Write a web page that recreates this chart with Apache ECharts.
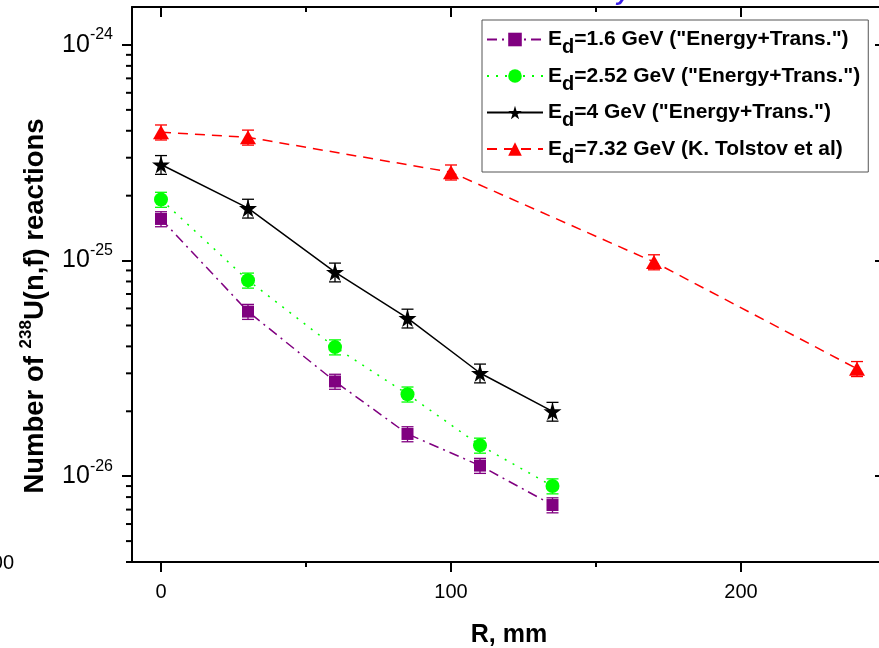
<!DOCTYPE html>
<html><head><meta charset="utf-8">
<script src="https://cdn.jsdelivr.net/npm/echarts@6/dist/echarts.min.js"></script>
<style>html,body{margin:0;padding:0;background:#fff}#c{width:879px;height:648px}</style>
</head><body><div id="c"></div>
<script>
// ---- data ----
const names = [
  'E_d=1.6 GeV ("Energy+Trans.")',
  'E_d=2.52 GeV ("Energy+Trans.")',
  'E_d=4 GeV ("Energy+Trans.")',
  'E_d=7.32 GeV (K. Tolstov et al)'
];
const xPurple = [0, 30, 60, 85, 110, 135];
const yPurple = [1.56e-25, 5.8e-26, 2.75e-26, 1.57e-26, 1.12e-26, 7.35e-27];
const ePurple = [0.08, 0.08, 0.08, 0.08, 0.08, 0.08];
const xGreen = [0, 30, 60, 85, 110, 135];
const yGreen = [1.92e-25, 8.1e-26, 3.97e-26, 2.4e-26, 1.39e-26, 9.0e-27];
const eGreen = [0.08, 0.08, 0.08, 0.08, 0.08, 0.08];
const xBlack = [0, 30, 60, 85, 110, 135];
const yBlack = [2.79e-25, 1.75e-25, 8.85e-26, 5.41e-26, 3.01e-26, 2.0e-26];
const eBlack = [0.10, 0.10, 0.10, 0.10, 0.10, 0.10];
const xRed = [0, 30, 100, 170, 240];
const yRed = [3.94e-25, 3.73e-25, 2.57e-25, 9.85e-26, 3.15e-26];
const eRed = [0.08, 0.08, 0.08, 0.08, 0.08];
const xTickMajor = [0, 100, 200];
const xTickMinor = [50, 150];
const yTickMinor = [];
[-27, -26, -25].forEach(function (d) {
  for (let m = 2; m <= 9; m++) {
    const v = m * Math.pow(10, d);
    if (v >= 4e-27 && v <= 1.5e-24) yTickMinor.push(v);
  }
});

const F = 'Arial, "Liberation Sans", sans-serif';
const colors = ['#800080', '#00ff00', '#000000', '#ff0000'];
const starPath = 'path://M50,0 L61,35 L98,35 L68,57 L79,91 L50,70 L21,91 L32,57 L2,35 L39,35 Z';
const XMIN = -10, XMAX = 250, YMIN = 4e-27, YMAX = 1.5e-24;

function pts(xs, ys) { return xs.map((x, i) => [x, ys[i]]); }
function errPts(xs, ys, es) { return xs.map((x, i) => [x, ys[i], es[i]]); }
function errRender(color) {
  return function (params, api) {
    const x = api.value(0), y = api.value(1), e = api.value(2);
    const p = api.coord([x, y * (1 + e)]);
    const q = api.coord([x, y * (1 - e)]);
    const w = 6;
    const st = { stroke: color, lineWidth: 1.3 };
    return { type: 'group', children: [
      { type: 'line', shape: { x1: p[0], y1: p[1], x2: q[0], y2: q[1] }, style: st },
      { type: 'line', shape: { x1: p[0] - w, y1: p[1], x2: p[0] + w, y2: p[1] }, style: st },
      { type: 'line', shape: { x1: q[0] - w, y1: q[1], x2: q[0] + w, y2: q[1] }, style: st }
    ] };
  };
}
function lineSeries(i, xs, ys, symbol, size, dash) {
  return {
    name: names[i], type: 'line', data: pts(xs, ys), z: 3,
    xAxisIndex: 0, yAxisIndex: 0,
    symbol: symbol, symbolSize: size,
    itemStyle: { color: colors[i] },
    lineStyle: { color: colors[i], width: 1.5, type: dash },
    emphasis: { disabled: true }
  };
}
function errSeries(i, xs, ys, es) {
  return { type: 'custom', xAxisIndex: 0, yAxisIndex: 0, data: errPts(xs, ys, es), renderItem: errRender(colors[i]), z: 2, silent: true };
}
// minor ticks of the left log axis, placed through the axis scale
const minorTickSeries = {
  type: 'custom', xAxisIndex: 0, yAxisIndex: 0, silent: true, clip: false, z: 5,
  data: yTickMinor.map(v => [XMIN, v]),
  renderItem: function (params, api) {
    const p = api.coord([api.value(0), api.value(1)]);
    return { type: 'line', shape: { x1: p[0] - 6, y1: p[1], x2: p[0], y2: p[1] }, style: { stroke: '#000', lineWidth: 2 } };
  }
};

const axisLineStyle = { color: '#000', width: 2 };
const tickLS = { width: 2, color: '#000' };
const gridBox = { left: 132, right: -7, top: 7, bottom: 86, containLabel: false, outerBoundsMode: 'none' };

const chart = echarts.init(document.getElementById('c'));
chart.setOption({
  animation: false,
  backgroundColor: '#fff',
  grid: [Object.assign({}, gridBox), Object.assign({}, gridBox)],
  xAxis: [
    { gridIndex: 0, type: 'value', position: 'bottom', min: XMIN, max: XMAX,
      axisLine: { show: true, onZero: false, lineStyle: axisLineStyle },
      axisTick: { show: true, inside: false, length: 10, lineStyle: tickLS, customValues: xTickMajor },
      axisLabel: { show: true, customValues: xTickMajor, fontSize: 20, color: '#000', fontFamily: F, margin: 20 },
      splitLine: { show: false },
      name: 'R, mm', nameLocation: 'middle', nameGap: 61,
      nameTextStyle: { fontSize: 25, fontWeight: 'bold', color: '#000', fontFamily: F } },
    { gridIndex: 0, type: 'value', position: 'top', min: XMIN, max: XMAX,
      axisLine: { show: true, onZero: false, lineStyle: axisLineStyle },
      axisTick: { show: true, inside: true, length: 10, lineStyle: tickLS, customValues: xTickMajor },
      axisLabel: { show: false }, splitLine: { show: false } },
    { gridIndex: 1, type: 'value', position: 'bottom', min: XMIN, max: XMAX,
      axisLine: { show: false, onZero: false },
      axisTick: { show: true, inside: false, length: 5, lineStyle: tickLS, customValues: xTickMinor },
      axisLabel: { show: false }, splitLine: { show: false } },
    { gridIndex: 1, type: 'value', position: 'top', min: XMIN, max: XMAX,
      axisLine: { show: false, onZero: false },
      axisTick: { show: true, inside: true, length: 5, lineStyle: tickLS, customValues: xTickMinor },
      axisLabel: { show: false }, splitLine: { show: false } }
  ],
  yAxis: [
    { gridIndex: 0, type: 'log', logBase: 10, position: 'left', min: YMIN, max: YMAX,
      axisLine: { show: true, onZero: false, lineStyle: axisLineStyle },
      axisTick: { show: true, inside: false, length: 10, lineStyle: tickLS },
      axisLabel: { show: true, margin: 19, showMinLabel: false, showMaxLabel: false,
        formatter: function (v) { return '{b|10}{s|' + Math.round(Math.log10(v)) + '}'; },
        rich: {
          b: { fontSize: 25, color: '#000', fontFamily: F },
          s: { fontSize: 16, color: '#000', fontFamily: F, padding: [0, 0, 20, 0] }
        } },
      splitLine: { show: false } },
    { gridIndex: 0, type: 'log', logBase: 10, position: 'right', min: YMIN, max: YMAX,
      axisLine: { show: true, onZero: false, lineStyle: axisLineStyle },
      axisTick: { show: true, inside: true, length: 11, lineStyle: tickLS },
      axisLabel: { show: false }, splitLine: { show: false } },
    { gridIndex: 1, type: 'log', logBase: 10, position: 'left', min: YMIN, max: YMAX, show: false }
  ],
  legend: {
    data: names, orient: 'vertical', left: 482, top: 20,
    padding: [9, 8, 5, 4], itemGap: 8, itemWidth: 56, itemHeight: 17,
    borderColor: '#555', borderWidth: 1, backgroundColor: '#fff',
    selectedMode: false,
    formatter: function (name) {
      return '{e|E}{d|d}{t|' + name.slice(3) + '}';
    },
    textStyle: {
      color: '#000',
      rich: {
        e: { fontSize: 21, fontWeight: 'bold', fontFamily: F, color: '#000' },
        d: { fontSize: 20, fontWeight: 'bold', fontFamily: F, color: '#000', padding: [16, 0, 0, 0] },
        t: { fontSize: 21, fontWeight: 'bold', fontFamily: F, color: '#000' }
      }
    }
  },
  graphic: [
    { type: 'text', x: 35, y: 306, rotation: Math.PI / 2, silent: true,
      style: { text: '{a|Number of }{s|238}{a|U(n,f) reactions}', align: 'center', verticalAlign: 'middle',
        rich: {
          a: { fontSize: 27.5, fontWeight: 'bold', fontFamily: F, fill: '#000' },
          s: { fontSize: 17, fontWeight: 'bold', fontFamily: F, fill: '#000', padding: [0, 0, 17, 0] }
        } } },
    { type: 'text', x: 14, y: 563, silent: true,
      style: { text: '100', align: 'right', verticalAlign: 'middle', fontSize: 20, fontFamily: F, fill: '#000' } },
    { type: 'text', x: 630, y: 5, silent: true,
      style: { text: 'y', align: 'right', verticalAlign: 'bottom', fontSize: 24, fontStyle: 'italic', fontWeight: 'bold', fontFamily: F, fill: '#3a1ee8' } }
  ],
  series: [
    minorTickSeries,
    errSeries(0, xPurple, yPurple, ePurple),
    errSeries(1, xGreen, yGreen, eGreen),
    errSeries(2, xBlack, yBlack, eBlack),
    errSeries(3, xRed, yRed, eRed),
    lineSeries(0, xPurple, yPurple, 'rect', 12, [10, 5, 2, 5]),
    lineSeries(1, xGreen, yGreen, 'circle', 14, [2, 7]),
    lineSeries(2, xBlack, yBlack, starPath, 18, 'solid'),
    lineSeries(3, xRed, yRed, 'triangle', [16, 14], [10, 7])
  ]
});
</script></body></html>
